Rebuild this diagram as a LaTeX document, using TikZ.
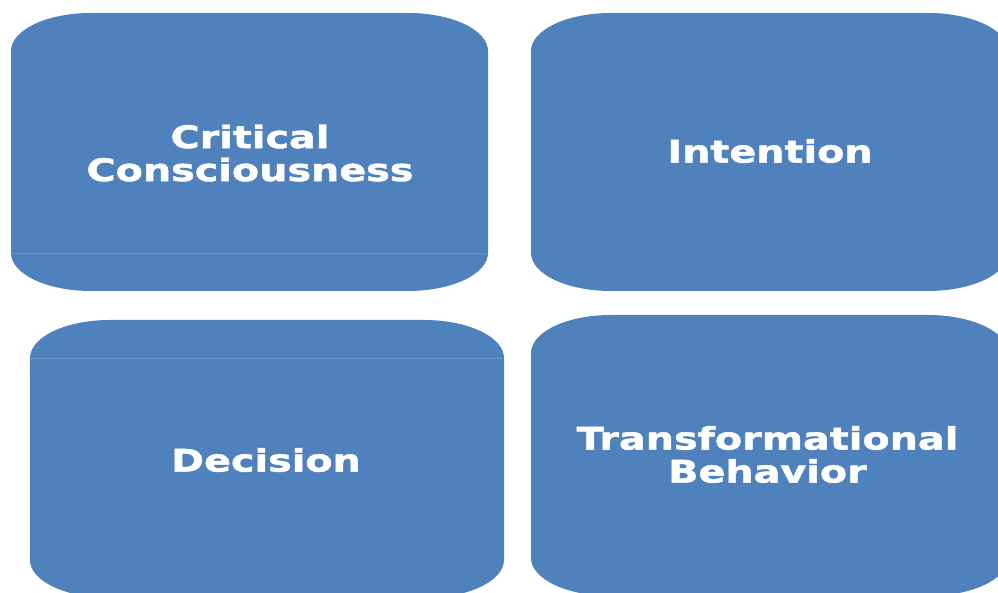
\documentclass[tikz,border=0pt]{standalone}
\usepackage{fontspec}
\newfontfamily\cardfont{DejaVu Sans Bold}[FakeStretch=1.28, FakeBold=1.6]
\usepackage{tikz}
\definecolor{officeblue}{RGB}{79,129,189}
\definecolor{seamblue}{RGB}{104,150,204}
\tikzset{%
    card/.style={fill=officeblue, draw=none},
    cardtext/.style={text=white, align=center, inner sep=0pt,
        font=\cardfont\fontsize{31}{33}\selectfont}
}
% box with elliptical corners: #1,#2 lower left, #3,#4 upper right
\newcommand{\cardpath}[4]{%
    \fill[card] (#1+80,#2) -- (#3-80,#2)
        arc[start angle=-90, end angle=0, x radius=80, y radius=38]
        -- (#3,#4-38)
        arc[start angle=0, end angle=90, x radius=80, y radius=38]
        -- (#1+80,#4)
        arc[start angle=90, end angle=180, x radius=80, y radius=38]
        -- (#1,#2+38)
        arc[start angle=180, end angle=270, x radius=80, y radius=38]
        -- cycle;
}

\begin{document}
\begin{tikzpicture}[x=1pt,y=1pt]
    \useasboundingbox (0,0) rectangle (998,593);
    \clip (0,0) rectangle (998,593);

    \cardpath{11}{302}{488}{580}
    \cardpath{531}{302}{1008}{580}
    \cardpath{30}{-5}{504}{273}
    \cardpath{531}{-3}{1008}{278}

    % faint seams
    \draw[seamblue, line width=0.6pt] (11,340) -- (488,340);
    \draw[seamblue, line width=0.6pt] (30,235) -- (504,235);

    \node[cardtext] (critical) at (250,440) {Critical\\Consciousness};
    \node[cardtext] (intention) at (770,442) {Intention};
    \node[cardtext] (decision) at (266,133) {Decision};
    \node[cardtext] (behavior) at (767.5,138.5) {Transformational\\Behavior};
\end{tikzpicture}
\end{document}
